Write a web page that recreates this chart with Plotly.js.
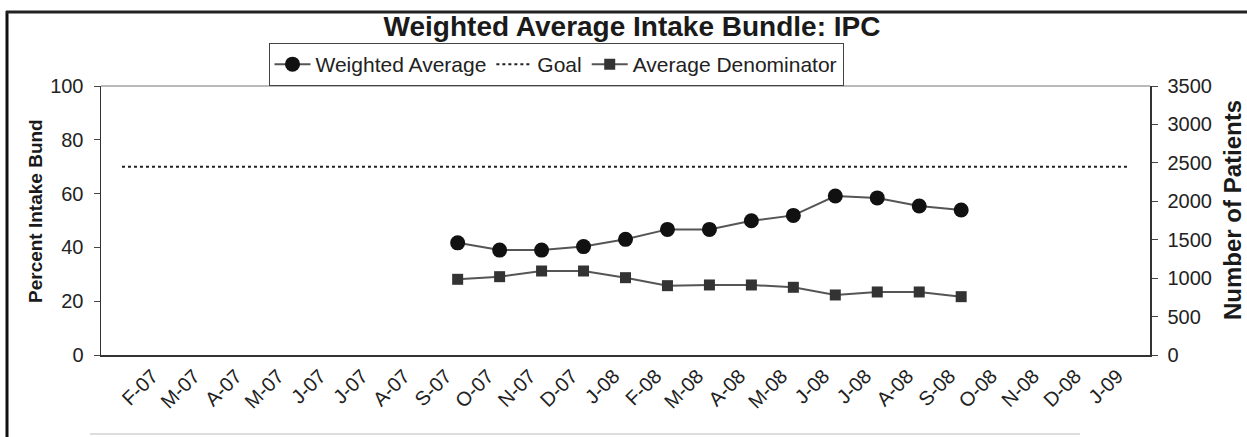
<!DOCTYPE html>
<html>
<head>
<meta charset="utf-8">
<script src="https://cdn.plot.ly/plotly-3.0.1.min.js"></script>
<style>
html,body{margin:0;padding:0;background:#fff;}
#chart{width:1247px;height:437px;}
</style>
</head>
<body>
<div id="chart"></div>
<script>
// Category slots (months), Jan-07 .. Jan-09
const months = ['Jan-07','Feb-07','Mar-07','Apr-07','May-07','Jun-07','Jul-07','Aug-07','Sep-07','Oct-07','Nov-07','Dec-07',
  'Jan-08','Feb-08','Mar-08','Apr-08','May-08','Jun-08','Jul-08','Aug-08','Sep-08','Oct-08','Nov-08','Dec-08','Jan-09'];
// Axis tick labels as printed (first slot unlabeled)
const tickLabels = ['','F-07','M-07','A-07','M-07','J-07','J-07','A-07','S-07','O-07','N-07','D-07',
  'J-08','F-08','M-08','A-08','M-08','J-08','J-08','A-08','S-08','O-08','N-08','D-08','J-09'];
// Series months (Sep-07 .. Sep-08)
const seriesMonths = ['Sep-07','Oct-07','Nov-07','Dec-07','Jan-08','Feb-08','Mar-08','Apr-08','May-08','Jun-08','Jul-08','Aug-08','Sep-08'];
const weightedAverage = [41.7, 39.0, 39.0, 40.3, 43.0, 46.7, 46.7, 49.9, 51.9, 59.1, 58.4, 55.4, 53.9];
const avgDenominator = [985, 1019, 1093, 1093, 1006, 902, 911, 911, 881, 781, 820, 820, 759];
const goalValue = 70;
const leftTicks = [0, 20, 40, 60, 80, 100];
const rightTicks = [0, 500, 1000, 1500, 2000, 2500, 3000, 3500];

const idx = m => months.indexOf(m);
const xSeries = seriesMonths.map(idx);
const xAll = months.map(idx);
const goal = months.map(() => goalValue);

const font = 'Liberation Sans, Arial, sans-serif';
const traces = [
  {x: xSeries, y: weightedAverage, name: 'Weighted Average', type: 'scatter', mode: 'lines+markers',
   line: {color: '#555', width: 2}, marker: {symbol: 'circle', size: 15, color: '#111'}, xaxis: 'x', yaxis: 'y'},
  {x: xAll, y: goal, name: 'Goal', type: 'scatter', mode: 'lines',
   line: {color: '#222', width: 2, dash: 'dot'}, xaxis: 'x', yaxis: 'y'},
  {x: xSeries, y: avgDenominator, name: 'Average Denominator', type: 'scatter', mode: 'lines+markers',
   line: {color: '#555', width: 2}, marker: {symbol: 'square', size: 11, color: '#333'}, xaxis: 'x', yaxis: 'y2'}
];

const n = months.length;
const boundaries = [];
for (let i = 0; i <= n; i++) boundaries.push(i - 0.5);
// labels sit slightly left of category centre (rotated text end)
const labelPos = xAll.map(v => v - 0.28);

const px = p => (p - 101) / 1049;
const py = p => (355 - p) / 269;

const layout = {
  width: 1247, height: 437,
  margin: {l: 101, r: 97, t: 86, b: 82},
  paper_bgcolor: '#fff', plot_bgcolor: '#fff',
  font: {family: font, color: '#222'},
  showlegend: true,
  title: {text: '<b>Weighted Average Intake Bundle: IPC</b>', font: {family: font, size: 28, color: '#1a1a1a'},
          x: px(632), xref: 'paper', xanchor: 'center', yref: 'container', y: 0.94, yanchor: 'middle'},
  legend: {orientation: 'h', x: px(556), xanchor: 'center', y: 1.0, yanchor: 'bottom',
           bordercolor: '#444', borderwidth: 1, bgcolor: '#fff',
           font: {family: font, size: 21, color: '#222'}, itemwidth: 36, tracegroupgap: 0},
  xaxis: {range: [-0.5, n - 0.5], tickmode: 'array', tickvals: labelPos, ticktext: tickLabels,
          tickangle: -45, ticks: '', showgrid: false, zeroline: false,
          showline: true, linecolor: '#333', linewidth: 1.5, mirror: false,
          tickfont: {family: font, size: 20, color: '#222'}, fixedrange: true},
  xaxis2: {range: [-0.5, n - 0.5], overlaying: 'x', anchor: 'y', tickmode: 'array', tickvals: boundaries,
           ticks: 'outside', ticklen: 6, tickcolor: '#444', showticklabels: false, showgrid: false,
           zeroline: false, showline: false},
  xaxis3: {range: [-0.5, n - 0.5], overlaying: 'x', anchor: 'y', tickmode: 'array', tickvals: boundaries,
           ticks: 'inside', ticklen: 5, tickcolor: '#555', showticklabels: false, showgrid: false,
           zeroline: false, showline: false},
  yaxis: {range: [0, 100], tickmode: 'array', tickvals: leftTicks, ticks: 'outside', ticklen: 6,
          tickcolor: '#444', showgrid: false, zeroline: false, showline: true, linecolor: '#333', linewidth: 1.5,
          tickfont: {family: font, size: 20, color: '#222'}, ticklabelstandoff: 6},
  yaxis2: {range: [0, 3500], overlaying: 'y', side: 'right', anchor: 'x', tickmode: 'array',
           tickvals: rightTicks, ticks: 'outside', ticklen: 6, tickcolor: '#444',
           showgrid: false, zeroline: false, showline: true, linecolor: '#333', linewidth: 1.5,
           tickfont: {family: font, size: 20, color: '#222'}, ticklabelstandoff: 6},
  annotations: [
    {text: '<b>Percent Intake Bund</b>', textangle: -90, xref: 'paper', yref: 'paper', x: px(35), y: py(211),
     xanchor: 'center', yanchor: 'middle', showarrow: false, font: {family: font, size: 19, color: '#1a1a1a'}},
    {text: '<b>Number of Patients</b>', textangle: -90, xref: 'paper', yref: 'paper', x: px(1232), y: py(210),
     xanchor: 'center', yanchor: 'middle', showarrow: false, font: {family: font, size: 24, color: '#1a1a1a'}}
  ],
  shapes: [
    {type: 'line', xref: 'paper', yref: 'paper', x0: 0, x1: 1, y0: 1, y1: 1, line: {color: '#777', width: 1.2}},
    {type: 'line', xref: 'paper', yref: 'paper', x0: px(7), x1: px(7), y0: py(11), y1: py(440), line: {color: '#111', width: 3}},
    {type: 'line', xref: 'paper', yref: 'paper', x0: px(6), x1: px(1250), y0: py(12), y1: py(12), line: {color: '#222', width: 3}},
    {type: 'line', xref: 'paper', yref: 'paper', x0: px(90), x1: px(1080), y0: py(434), y1: py(434), line: {color: '#bbb', width: 1}}
  ]
};

Plotly.newPlot('chart', traces, layout, {displayModeBar: false, staticPlot: true});
</script>
</body>
</html>
